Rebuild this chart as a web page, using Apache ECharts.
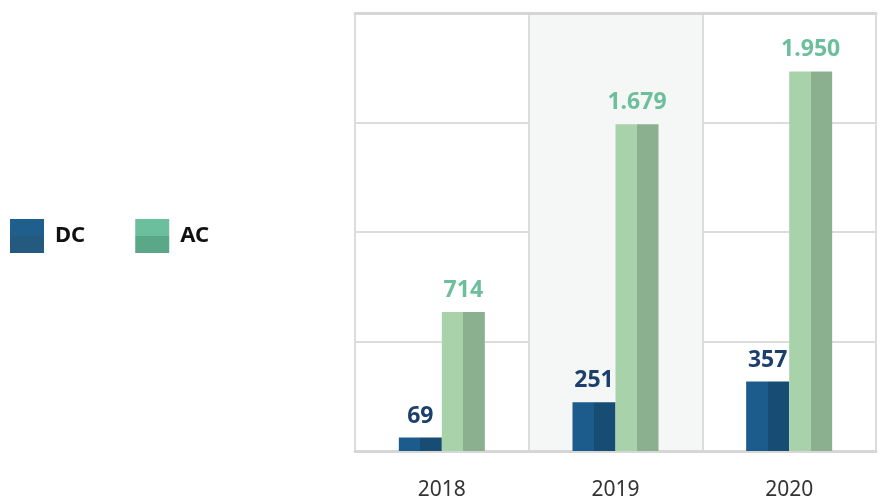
<!DOCTYPE html>
<html>
<head>
<meta charset="utf-8">
<script src="https://cdn.jsdelivr.net/npm/echarts@6/dist/echarts.min.js"></script>
<style>
  html, body { margin: 0; padding: 0; background: #fff; }
  #chart { width: 886px; height: 503px; }
</style>
</head>
<body>
<div id="chart"></div>
<script>
const years = ['2018', '2019', '2020'];
const dcValues = [69, 251, 357];
const acValues = [714, 1679, 1950];

// split bar: left half lighter, right half darker
function halfSplit(a, b, vertical) {
    return {
        type: 'linear', x: 0, y: 0, x2: vertical ? 0 : 1, y2: vertical ? 1 : 0,
        colorStops: [
            { offset: 0, color: a }, { offset: 0.5, color: a },
            { offset: 0.5, color: b }, { offset: 1, color: b }
        ]
    };
}

function fmt(p) {
    let n = p.value;
    if (n >= 1000) {
        return Math.floor(n / 1000) + '.' + String(n % 1000).padStart(3, '0');
    }
    return String(n);
}

const chart = echarts.init(document.getElementById('chart'));
const font = '"Noto Sans", sans-serif';

chart.setOption({
    animation: false,
    textStyle: { fontFamily: font },
    legend: {
        left: 10,
        top: 219,
        padding: 0,
        orient: 'horizontal',
        icon: 'rect',
        itemWidth: 34,
        itemHeight: 34,
        itemGap: 50,
        textStyle: { fontSize: 22, fontWeight: 'bold', color: '#111', padding: [0, 0, 0, 6] },
        data: [
            { name: 'DC', itemStyle: { color: halfSplit('#1e5f8e', '#245a80', true) } },
            { name: 'AC', itemStyle: { color: halfSplit('#6cbf9d', '#5aa887', true) } }
        ]
    },
    grid: { left: 355, right: 10, top: 13, bottom: 52 },
    xAxis: [{
        type: 'category',
        data: years,
        axisTick: { show: false },
        axisLine: { lineStyle: { color: '#d6d6d6', width: 3 } },
        axisLabel: { fontSize: 21, color: '#333', margin: 29 },
        splitLine: { show: true, interval: 0, lineStyle: { color: '#dcdcdc', width: 2 } },
        splitArea: { show: true, interval: 0, areaStyle: { color: ['rgba(0,0,0,0)', '#f5f7f7'] } }
    }, {
        type: 'category',
        position: 'top',
        data: years,
        axisTick: { show: false },
        axisLabel: { show: false },
        axisLine: { lineStyle: { color: '#d6d6d6', width: 3 } }
    }],
    yAxis: {
        type: 'value',
        min: 0,
        max: 2250,
        interval: 562.5,
        axisLabel: { show: false },
        axisLine: { show: false },
        axisTick: { show: false },
        splitLine: { lineStyle: { color: '#dcdcdc', width: 2 } }
    },
    series: [{
        name: 'DC',
        type: 'bar',
        data: dcValues,
        barWidth: 43,
        barGap: '0%',
        itemStyle: { color: halfSplit('#1b5c8c', '#174d73') },
        label: { show: true, position: 'top', distance: 10, fontSize: 23, fontWeight: 'bold', color: '#1d3f6b', formatter: fmt }
    }, {
        name: 'AC',
        type: 'bar',
        data: acValues,
        barWidth: 43,
        itemStyle: { color: halfSplit('#a8d3aa', '#8bb08f') },
        label: { show: true, position: 'top', distance: 10, fontSize: 23, fontWeight: 'bold', color: '#6cbf9d', formatter: fmt }
    }]
});
</script>
</body>
</html>
